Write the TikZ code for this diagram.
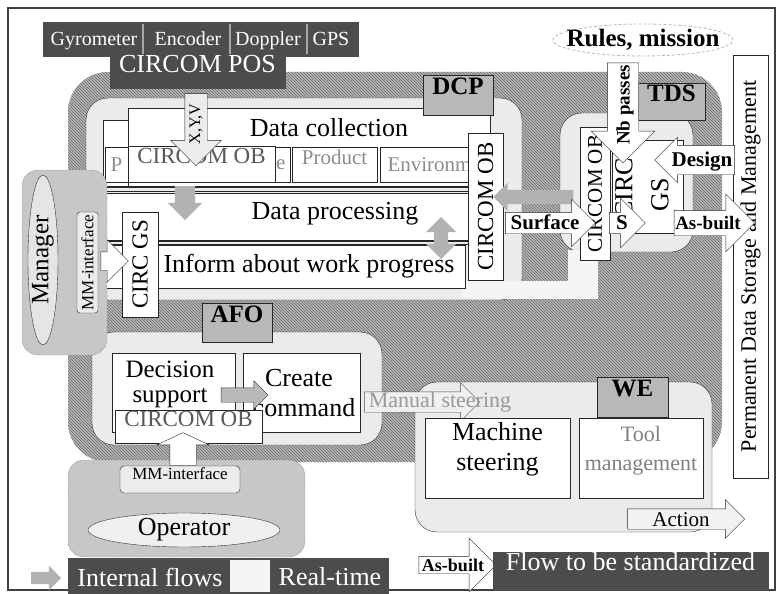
\documentclass[tikz,border=0pt]{standalone}
\usepackage{fontspec}
\setmainfont{Liberation Serif}
\usetikzlibrary{arrows.meta, positioning, shapes.geometric, shapes.arrows, patterns, fit}

\definecolor{darkgrey}{gray}{0.30}
\definecolor{taggrey}{gray}{0.72}
\definecolor{zonegrey}{gray}{0.92}
\definecolor{persongrey}{gray}{0.78}
\definecolor{hatchgrey}{gray}{0.72}

\begin{document}
\begin{tikzpicture}[x=1pt, y=-1pt,
  big/.style={font=\fontsize{26}{30}\selectfont},
  small/.style={font=\fontsize{17}{18}\selectfont},
  sensor/.style={text=white, anchor=base, font=\fontsize{20}{21}\selectfont},
  zone/.style={draw=black!80, fill=zonegrey, rounded corners=22, inner sep=0pt},
  person/.style={draw=black!70, densely dotted, fill=persongrey, rounded corners=16, inner sep=0pt},
  box/.style={draw=black!85, fill=white, inner sep=0pt},
  darkbox/.style={draw=black!70, fill=darkgrey, text=white, inner sep=0pt},
  tag/.style={draw=black!85, fill=taggrey, inner sep=0pt, font=\fontsize{25}{26}\selectfont\bfseries},
  faint/.style={text=black!45, font=\fontsize{21}{22}\selectfont},
  turned/.style={rotate=90, inner sep=0pt},
  flow/.style={single arrow, draw=black!85, fill=white, inner xsep=1pt, inner ysep=2pt,
    text height=15pt, text depth=2pt, font=\fontsize{21}{22}\selectfont\bfseries},
  internal/.style={single arrow, draw=none, fill=gray!60, inner xsep=0pt},
]
\useasboundingbox (0,0) rectangle (780,594);
\fill[white] (0,0) rectangle (780,594);
\draw[line width=1.2pt, black!75] (8,8) rectangle (775,590);

% hatched background of the process
\fill[hatchgrey, rounded corners=40] (68,72) rectangle (722,462);
\fill[pattern=north west lines, pattern color=black!60, rounded corners=40] (68,72) rectangle (722,462);

% sensors
\node[darkbox, fit={(43,22) (358,56)}] (sensors) {};
\foreach \x in {143,230,307}
  \draw[gray!70, line width=1.5pt] (\x,24) -- (\x,54);
\node[sensor] (gyro) at (94,46) {Gyrometer};
\node[sensor] (encoder) at (188,46) {Encoder};
\node[sensor] (doppler) at (268,46) {Doppler};
\node[sensor] (gps) at (331,46) {GPS};
\node[darkbox, big, fit={(110,57) (285,88)}] (pos) {CIRCOM POS};

\node[ellipse, draw=gray!55, densely dashed, line width=0.8pt, fill=white, minimum width=180, minimum height=32, inner sep=0pt] (rulesring) at (643,40) {};
\node[font=\fontsize{25}{26}\selectfont\bfseries] (rules) at (rulesring) {Rules, mission};

% zones
\node[zone, fit={(86,98) (522,300)}] (dcpzone) {};
\node[zone, fit={(560,113) (693,252)}] (tdszone) {};
\node[zone, fit={(92,332) (382,445)}] (afozone) {};
\node[zone, fit={(415,382) (712,532)}] (wezone) {};

% real-time band
\fill[gray!8] (462,281) rectangle (598,299);
\fill[gray!8] (568,250) rectangle (598,299);

% DCP
\node[box, fit={(103,120) (478,186)}] (collectback) {};
\node[box, fit={(128,108) (490,186)}] (collect) {};
\node[big] (collecttxt) at (329,128) {Data collection};
\node[box, fit={(105,147) (290,182)}] (pbox) {};
\node[faint, anchor=west] (ptxt) at (107,165) {P};
\node[faint, anchor=east] (etxt) at (289,165) {e};
\node[box, text=black!65, font=\fontsize{23}{24}\selectfont, fit={(128,146) (275,182)}] (obtop) {CIRCOM OB};
\node[box, faint, fit={(292,147) (377,182)}] (product) {Product};
\node[box, fit={(380,147) (472,182)}] (environ) {};
\node[faint, anchor=west] (environtxt) at (384,165) {Environment};
\draw[black!85] (103,187) -- (472,187) (103,191) -- (472,191);
\node[box, fit={(103,193) (468,240)}] (process) {};
\node[big] (processtxt) at (335,214) {Data processing};
\draw[black!85] (103,241) -- (468,241) (103,244) -- (468,244);
\node[box, fit={(103,245) (465,288)}] (inform) {};
\node[big] (informtxt) at (309,266) {Inform about work progress};

\node[box, fit={(468,133) (503,280)}] (dcpob) {};
\node[turned, font=\fontsize{23}{24}\selectfont] (dcpobtxt) at (dcpob) {CIRCOM OB};
\node[box, fit={(122,212) (158,317)}] (gsleft) {};
\node[turned, font=\fontsize{23}{24}\selectfont] (gslefttxt) at (gsleft) {CIRC GS};

% manager
\node[person, fit={(22,170) (107,355)}] (mgrzone) {};
\node[ellipse, draw=black!80, fill=gray!20, rotate=90, minimum width=170, minimum height=30, inner sep=0pt] (mgrring) at (43,260) {};
\node[turned, font=\fontsize{25}{26}\selectfont] (manager) at (mgrring) {Manager};
\node[box, rounded corners=3, fill=gray!15, fit={(77,212) (98,313)}] (mgrmmi) {};
\node[turned, small] (mgrmmitxt) at (mgrmmi) {MM-interface};
\node[single arrow, draw=black!85, fill=white, minimum height=26, inner sep=9pt, single arrow head extend=12pt] (togs) at (110,261) {};

% tags
\node[tag, fit={(423,75) (493,115)}] (dcp) {DCP};
\node[tag, fit={(638,83) (705,120)}] (tds) {TDS};
\node[tag, fit={(202,303) (272,342)}] (afo) {AFO};
\node[tag, fit={(597,377) (668,417)}] (we) {WE};

% TDS
\node[box, fit={(580,127) (610,260)}] (tdsob) {};
\node[turned, font=\fontsize{21}{22}\selectfont] (tdsobtxt) at (tdsob) {CIRCOM OB};
\node[box, fit={(612,140) (683,233)}] (tdsgs) {};
\node[turned, big] (circtxt) at (624,188) {CIRC};
\node[turned, big] (gstxt) at (660,195) {GS};

% storage
\node[box, fit={(733,55) (768,478)}] (store) {};
\node[turned, font=\fontsize{22}{23}\selectfont] (storetxt) at (store) {Permanent Data Storage and Management};

% AFO
\node[box, fit={(112,353) (235,432)}] (decide) {};
\node[font=\fontsize{25}{25}\selectfont, align=center, inner sep=0pt] (decidetxt) at (170,384) {Decision\\support};
\node[box, fit={(243,353) (360,432)}] (create) {};
\node[big] (createtxt) at (299,378) {Create};
\node[big] (commandtxt) at (304,408) {command};
\node[single arrow, draw=black!80, fill=gray!55, minimum height=47, inner sep=7pt, single arrow head extend=7pt] (dec2cre) at (241,395) {};
\node[box, text=black!65, font=\fontsize{23}{24}\selectfont, fit={(115,410) (262,443)}] (afoob) {CIRCOM OB};

% operator
\node[person, fit={(68,460) (305,557)}] (opzone) {};
\node[box, rounded corners=4, fill=gray!15, small, fit={(120,466) (240,493)}] (opmmi) {MM-interface};
\node[ellipse, draw=black!80, fill=gray!12, minimum width=192, minimum height=34, inner sep=0pt] (opring) at (184,530) {};
\node[big] (operator) at (opring) {Operator};
\node[single arrow, draw=black!85, fill=white, rotate=90, single arrow tip angle=130, minimum height=22, inner sep=13pt, single arrow head extend=13pt] (opup) at (183,452) {};

% WE
\node[single arrow, draw=black!70, fill=gray!12, minimum height=115, inner sep=10pt, single arrow head extend=9pt] (manual) at (417,402) {};
\node[text=black!40, font=\fontsize{22}{23}\selectfont] (manualtxt) at (440,402) {Manual steering};
\node[box, big, align=center, fit={(425,418) (570,498)}] (machine) {Machine\\steering};
\node[box, align=center, text=black!50, font=\fontsize{22}{29}\selectfont, fit={(579,418) (703,498)}] (tool) {Tool\\management};
\node[flow, fill=gray!10, font=\fontsize{21}{22}\selectfont, text height=14pt, text depth=0pt, inner ysep=3pt, single arrow head extend=9pt, minimum height=117] (action) at (681,519) {Action};

% flows between blocks
\node[flow, fill=gray!15, rotate=90, shape border rotate=180, font=\fontsize{16}{17}\selectfont, text height=11pt, text depth=3pt, inner ysep=4pt, single arrow head extend=14pt, minimum height=72] (xyv) at (196,124) {X,Y,V};
\node[internal, rotate=-90, minimum height=34, inner ysep=10pt, single arrow head extend=7pt] (intdown) at (185,198) {};
\node[double arrow, fill=gray!60, rotate=90, minimum height=42, inner ysep=7pt, double arrow head extend=8pt] (intupdown) at (441,238) {};
\node[internal, shape border rotate=180, minimum height=80, inner ysep=7pt, single arrow head extend=7pt] (intleft) at (537,197) {};
\node[flow, minimum height=90, single arrow head extend=13pt] (surface) at (545,223) {Surface};
\node[flow, minimum height=36, single arrow head extend=14pt] (sflow) at (622,223) {S};
\node[flow, font=\fontsize{19}{20}\selectfont\bfseries, inner ysep=4pt, minimum height=75, single arrow head extend=16pt] (asbuilt) at (708,223) {As-built};
\node[flow, shape border rotate=180, inner ysep=6pt, minimum height=80, single arrow head extend=8pt] (design) at (702,160) {Design};
\node[flow, rotate=90, shape border rotate=180, font=\fontsize{19}{20}\selectfont\bfseries, inner ysep=7pt, minimum height=100, single arrow head extend=16pt] (nbpasses) at (623,105) {Nb passes};

% legend
\node[internal, minimum height=30, inner ysep=6pt, single arrow head extend=6pt] (legint) at (43,578) {};
\node[darkbox, fit={(68,558) (388,594)}] (legdark) {};
\node[fill=gray!8, inner sep=0pt, fit={(230,560) (270,592)}] (legrt) {};
\node[big, text=white] (legintxt) at (150,577) {Internal flows};
\node[big, text=white] (legrttxt) at (330,577) {Real-time};
\node[flow, font=\fontsize{18}{19}\selectfont\bfseries, text height=13pt, text depth=0pt, inner ysep=2pt, minimum height=77, single arrow head extend=18pt] (legasbuilt) at (453,565) {As-built};
\node[darkbox, big, fit={(493,552) (768,590)}] (legstd) {Flow to be standardized};
\end{tikzpicture}
\end{document}
